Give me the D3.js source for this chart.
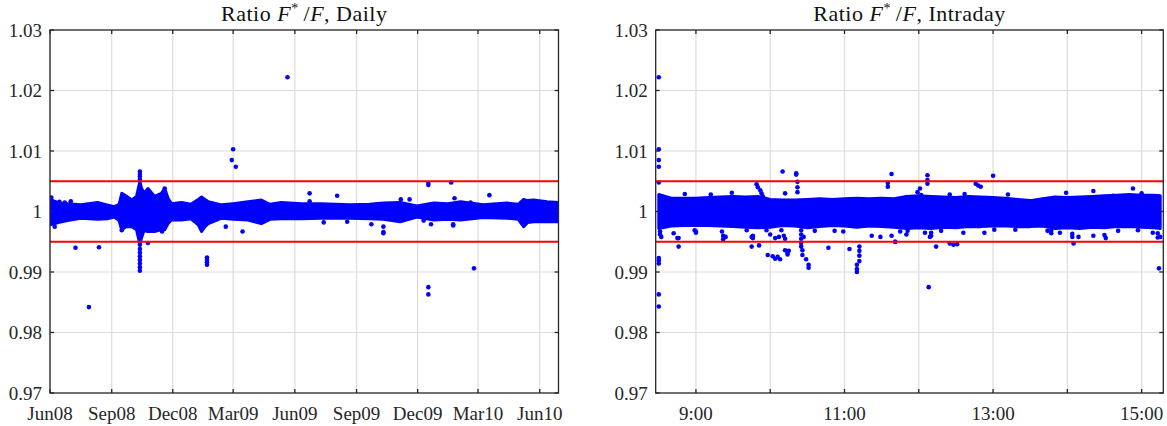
<!DOCTYPE html>
<html>
<head>
<meta charset="utf-8">
<script src="https://cdn.jsdelivr.net/npm/d3@7"></script>
<style>
  body { margin: 0; background: #fff; }
  text { font-family: "Liberation Serif", "Times New Roman", serif; fill: #262626; }
</style>
</head>
<body>
<div id="chart"></div>
<script>
// y axis, shared by both panels
var yTicks = [0.97, 0.98, 0.99, 1.00, 1.01, 1.02, 1.03];
var yTickLabels = ["0.97", "0.98", "0.99", "1", "1.01", "1.02", "1.03"];
var bounds = [0.995, 1.005];

// daily panel
var dailyTicks = ["2008-06-01", "2008-09-01", "2008-12-01", "2009-03-01", "2009-06-01",
                  "2009-09-01", "2009-12-01", "2010-03-01", "2010-06-01"];
var dailyTickLabels = ["Jun08", "Sep08", "Dec08", "Mar09", "Jun09", "Sep09", "Dec09", "Mar10", "Jun10"];
var dailyDomain = ["2008-06-01", "2010-06-29"];

// envelope of the dense cloud: date, upper, lower
var dailyBandDates = ["2008-06-01", "2008-06-15", "2008-06-27", "2008-07-17", "2008-08-11", "2008-08-25",
  "2008-09-05", "2008-09-12", "2008-09-16", "2008-09-22", "2008-10-01", "2008-10-08", "2008-10-11",
  "2008-10-13", "2008-10-15", "2008-10-19", "2008-10-25", "2008-11-04", "2008-11-14", "2008-11-19",
  "2008-11-24", "2008-11-29", "2008-12-14", "2008-12-28", "2009-01-08", "2009-01-13", "2009-01-18",
  "2009-01-23", "2009-02-12", "2009-03-01", "2009-03-23", "2009-04-12", "2009-04-25", "2009-05-12",
  "2009-06-11", "2009-07-09", "2009-08-23", "2009-09-20", "2009-10-11", "2009-11-05", "2009-11-30",
  "2009-12-25", "2010-01-15", "2010-02-03", "2010-03-09", "2010-04-13", "2010-04-30", "2010-05-08",
  "2010-05-14", "2010-05-23", "2010-06-12", "2010-06-29"];
var dailyBandUpper = [1.0020, 1.0014, 1.0013, 1.0011, 1.0015, 1.0011,
  1.0008, 1.0012, 1.0030, 1.0026, 1.0019, 1.0025, 1.0040,
  1.0050, 1.0040, 1.0030, 1.0038, 1.0025, 1.0030, 1.0038,
  1.0022, 1.0013, 1.0015, 1.0012, 1.0020, 1.0024, 1.0020,
  1.0016, 1.0011, 1.0013, 1.0016, 1.0019, 1.0012, 1.0015,
  1.0013, 1.0013, 1.0011, 1.0012, 1.0014, 1.0015, 1.0009,
  1.0014, 1.0013, 1.0016, 1.0011, 1.0014, 1.0012, 1.0020,
  1.0018, 1.0019, 1.0016, 1.0015];
var dailyBandLower = [0.9978, 0.9982, 0.9985, 0.9989, 0.9987, 0.9988,
  0.9991, 0.9985, 0.9969, 0.9975, 0.9975, 0.9970, 0.9955,
  0.9945, 0.9955, 0.9968, 0.9967, 0.9967, 0.9970, 0.9970,
  0.9980, 0.9986, 0.9986, 0.9988, 0.9978, 0.9967, 0.9975,
  0.9980, 0.9989, 0.9987, 0.9986, 0.9980, 0.9987, 0.9988,
  0.9988, 0.9989, 0.9989, 0.9988, 0.9987, 0.9983, 0.9991,
  0.9986, 0.9987, 0.9986, 0.9990, 0.9989, 0.9987, 0.9975,
  0.9982, 0.9983, 0.9983, 0.9983];

// isolated observations
var dailyPointDates = ["2008-06-03", "2008-07-09", "2008-07-29", "2008-08-13", "2008-09-16",
  "2008-10-13", "2008-10-13", "2008-10-13", "2008-10-13", "2008-10-13", "2008-10-13", "2008-10-13",
  "2008-10-13", "2008-10-13", "2008-10-13", "2008-10-13", "2008-10-13", "2008-10-25", "2008-11-15",
  "2008-11-19", "2009-01-21", "2009-01-21", "2009-01-21", "2009-01-21", "2009-02-18", "2009-02-27",
  "2009-03-01", "2009-03-05", "2009-03-15", "2009-05-21", "2009-06-23", "2009-06-23", "2009-07-14",
  "2009-08-03", "2009-08-18", "2009-09-23", "2009-10-11", "2009-10-11", "2009-10-11", "2009-11-06",
  "2009-11-19", "2009-12-10", "2009-12-17", "2009-12-17", "2009-12-17", "2009-12-17", "2009-12-21",
  "2010-01-20", "2010-01-23", "2010-01-23", "2010-01-25", "2010-02-18", "2010-02-23", "2010-03-18",
  "2008-06-15", "2008-06-23", "2008-06-08", "2008-07-02"];
var dailyPointValues = [1.0023, 0.9940, 0.9842, 0.9941, 0.9969,
  1.0066, 1.0062, 1.0058, 1.0053, 0.9945, 0.9938, 0.9932,
  0.9926, 0.9920, 0.9914, 0.9908, 0.9902, 0.9948, 0.9967,
  1.0038, 0.9924, 0.9920, 0.9916, 0.9912, 0.9975, 1.0085,
  1.0103, 1.0074, 0.9967, 1.0222, 1.0030, 1.0017, 0.9982,
  1.0026, 0.9983, 0.9979, 0.9975, 0.9966, 0.9964, 1.0020,
  1.0020, 0.9985, 1.0047, 1.0044, 0.9875, 0.9863, 0.9979,
  1.0048, 0.9979, 0.9977, 1.0022, 1.0015, 0.9906, 1.0027,
  1.0016, 1.0015, 0.9975, 1.0017];

// intraday panel
var intradayTicks = ["09:00", "10:00", "11:00", "12:00", "13:00", "14:00", "15:00"];
var intradayTickLabels = ["9:00", "", "11:00", "", "13:00", "", "15:00"];
var intradayDomain = ["08:27:30", "15:17:30"];

var intradayBandTimes = ["08:30", "08:40", "08:50", "09:00", "09:10", "09:20", "09:30", "09:40",
  "09:50", "10:00", "10:10", "10:20", "10:30", "10:40", "10:50", "11:00", "11:10", "11:20",
  "11:30", "11:40", "11:50", "12:00", "12:10", "12:20", "12:30", "12:40", "12:50", "13:00",
  "13:10", "13:20", "13:30", "13:40", "13:50", "14:00", "14:10", "14:20", "14:30", "14:40",
  "14:50", "15:00", "15:10", "15:15"];
var intradayBandUpper = [1.0028, 1.0022, 1.0022, 1.0022, 1.0023, 1.0024, 1.0025, 1.0024,
  1.0025, 1.0020, 1.0019, 1.0019, 1.0020, 1.0021, 1.0020, 1.0021, 1.0022, 1.0021,
  1.0022, 1.0021, 1.0025, 1.0026, 1.0025, 1.0024, 1.0023, 1.0025, 1.0024, 1.0023,
  1.0022, 1.0020, 1.0018, 1.0021, 1.0024, 1.0023, 1.0024, 1.0025, 1.0026, 1.0027,
  1.0028, 1.0027, 1.0027, 1.0026];
var intradayBandLower = [0.9972, 0.9976, 0.9977, 0.9977, 0.9977, 0.9976, 0.9975, 0.9974,
  0.9973, 0.9974, 0.9977, 0.9976, 0.9973, 0.9975, 0.9977, 0.9976, 0.9974, 0.9976,
  0.9975, 0.9974, 0.9972, 0.9973, 0.9972, 0.9974, 0.9973, 0.9975, 0.9975, 0.9976,
  0.9976, 0.9975, 0.9975, 0.9976, 0.9972, 0.9973, 0.9972, 0.9974, 0.9973, 0.9975,
  0.9975, 0.9974, 0.9973, 0.9972];

var intradayPointTimes = ["08:30", "08:30", "08:30", "08:30", "08:30", "08:30", "08:30", "08:30",
  "08:30", "08:30", "08:31", "08:31", "08:42", "08:45", "08:46", "08:51", "09:00", "09:00",
  "09:22", "09:22", "09:29", "09:45", "09:46", "09:46", "09:49", "09:50", "09:52", "09:53",
  "09:54", "09:51", "09:58", "10:02", "10:04", "10:06", "10:08", "10:04", "10:10", "10:12",
  "10:14", "10:14", "10:21", "10:21", "10:22", "10:22", "10:22", "10:25", "10:25", "10:25",
  "10:25", "10:25", "10:26", "10:26", "10:29", "10:31", "10:31", "10:47", "11:04", "11:10",
  "11:10", "11:10", "11:12", "11:12", "11:12", "11:12", "11:29", "11:35", "11:35", "11:38",
  "11:41", "12:01", "12:07", "12:07", "12:07", "12:08", "12:14", "12:10", "12:10", "12:25",
  "12:28", "12:31", "12:46", "12:48", "12:50", "13:00", "13:47", "13:47", "13:59", "14:05",
  "14:04", "14:04", "14:21", "14:30", "14:31", "14:53", "15:13", "15:13", "15:14",
  // fringe just outside the cloud
  "08:32", "08:46", "08:59", "09:21", "09:24", "09:41", "09:45", "09:57", "10:00", "10:07",
  "10:09", "10:11", "10:12", "10:15", "10:27", "10:36", "10:52", "10:59", "11:22", "11:38",
  "11:41", "11:45", "11:50", "11:51", "12:05", "12:09", "12:18", "12:36", "12:53", "13:01",
  "13:18", "13:44", "13:54", "14:09", "14:21", "14:41", "14:57", "15:09", "15:15",
  "09:12", "10:12", "11:50", "11:59", "12:02", "12:25", "12:37", "13:12", "14:37", "15:00"];
var intradayPointValues = [1.0222, 1.0103, 1.0085, 1.0074, 1.0048, 0.9923, 0.9919, 0.9914,
  0.9863, 0.9843, 0.9967, 0.9962, 0.9964, 0.9956, 0.9942, 1.0029, 0.9967, 0.9965,
  0.9960, 0.9954, 1.0031, 0.9942, 0.9956, 0.9960, 1.0045, 1.0040, 1.0035, 1.0030,
  1.0025, 0.9944, 0.9928, 0.9926, 0.9922, 0.9925, 0.9921, 0.9956, 1.0066, 0.9936,
  0.9932, 0.9929, 1.0063, 1.0061, 1.0049, 1.0040, 1.0032, 0.9969, 0.9962, 0.9955,
  0.9948, 0.9942, 0.9936, 0.9928, 0.9921, 0.9912, 0.9907, 0.9940, 0.9938, 0.9912,
  0.9905, 0.9900, 0.9942, 0.9935, 0.9927, 0.9918, 0.9958, 1.0047, 1.0041, 1.0062,
  0.9950, 1.0038, 1.0060, 1.0052, 1.0046, 0.9875, 0.9942, 0.9965, 0.9960, 0.9947,
  0.9945, 0.9946, 1.0046, 1.0043, 1.0041, 1.0059, 0.9968, 0.9964, 1.0031, 0.9947,
  0.9963, 0.9958, 1.0034, 0.9961, 0.9956, 1.0038, 0.9964, 0.9957, 0.9906,
  0.9958, 0.9956, 0.9969, 0.9967, 0.9958, 0.9969, 0.9958, 0.9969, 0.9962, 0.9958,
  0.9969, 0.9960, 0.9955, 0.9935, 0.9958, 0.9968, 0.9968, 0.9967, 0.9960, 0.9960,
  0.9950, 0.9967, 0.9962, 0.9968, 0.9965, 0.9958, 0.9968, 0.9965, 0.9965, 0.9970,
  0.9970, 0.9968, 0.9965, 0.9958, 0.9960, 0.9968, 0.9969, 0.9965, 0.9958,
  1.0028, 1.0030, 1.0024, 1.0032, 1.0027, 1.0028, 1.0029, 1.0028, 1.0026, 1.0030];

var W = 1167, H = 426;
var plotTop = 30, plotBottom = 393;

var svg = d3.select("#chart").append("svg")
    .attr("width", W)
    .attr("height", H);

var parseDay = d3.timeParse("%Y-%m-%d");
var parseHM = d3.timeParse("%H:%M");
var parseHMS = d3.timeParse("%H:%M:%S");

var yScale = d3.scaleLinear().domain([0.97, 1.03]).range([plotBottom, plotTop]);

function panel(opts) {
  var x = opts.x;
  var x0 = x.range()[0], x1 = x.range()[1];
  var g = svg.append("g");
  var clipId = "clip" + opts.id;

  g.append("clipPath").attr("id", clipId)
    .append("rect")
      .attr("x", x0).attr("y", plotTop)
      .attr("width", x1 - x0).attr("height", plotBottom - plotTop);

  // grid
  g.selectAll(".gx").data(opts.ticks)
    .enter().append("line")
      .attr("x1", function(d) { return x(d); }).attr("x2", function(d) { return x(d); })
      .attr("y1", plotTop).attr("y2", plotBottom)
      .attr("stroke", "#dcdcdc").attr("stroke-width", 1.2);
  g.selectAll(".gy").data(yTicks.slice(1, -1))
    .enter().append("line")
      .attr("x1", x0).attr("x2", x1)
      .attr("y1", function(d) { return yScale(d); }).attr("y2", function(d) { return yScale(d); })
      .attr("stroke", "#dcdcdc").attr("stroke-width", 1.2);

  var plot = g.append("g").attr("clip-path", "url(#" + clipId + ")");

  // dense cloud
  var area = d3.area()
      .x(function(d) { return x(d.t); })
      .y0(function(d) { return yScale(d.lo); })
      .y1(function(d) { return yScale(d.hi); });
  plot.append("path")
      .datum(opts.band)
      .attr("d", area)
      .attr("fill", "#0000ff")
      .attr("stroke", "#0000ff")
      .attr("stroke-width", 3)
      .attr("stroke-linejoin", "round");

  plot.selectAll("circle").data(opts.points)
    .enter().append("circle")
      .attr("cx", function(d) { return x(d.t); })
      .attr("cy", function(d) { return yScale(d.v); })
      .attr("r", 2.3)
      .attr("fill", "#0000ff");

  // bounds
  plot.selectAll(".bound").data(bounds)
    .enter().append("line")
      .attr("x1", x0).attr("x2", x1)
      .attr("y1", function(d) { return yScale(d); }).attr("y2", function(d) { return yScale(d); })
      .attr("stroke", "#ff0000").attr("stroke-width", 2);

  // box
  g.append("rect")
      .attr("x", x0).attr("y", plotTop)
      .attr("width", x1 - x0).attr("height", plotBottom - plotTop)
      .attr("fill", "none").attr("stroke", "#262626").attr("stroke-width", 1.3);

  // inner ticks on all four sides
  opts.ticks.forEach(function(d) {
    var xx = x(d);
    g.append("line").attr("x1", xx).attr("x2", xx).attr("y1", plotBottom).attr("y2", plotBottom - 4)
      .attr("stroke", "#262626").attr("stroke-width", 1.3);
    g.append("line").attr("x1", xx).attr("x2", xx).attr("y1", plotTop).attr("y2", plotTop + 4)
      .attr("stroke", "#262626").attr("stroke-width", 1.3);
  });
  yTicks.forEach(function(d) {
    var yy = yScale(d);
    g.append("line").attr("x1", x0).attr("x2", x0 + 4).attr("y1", yy).attr("y2", yy)
      .attr("stroke", "#262626").attr("stroke-width", 1.3);
    g.append("line").attr("x1", x1).attr("x2", x1 - 4).attr("y1", yy).attr("y2", yy)
      .attr("stroke", "#262626").attr("stroke-width", 1.3);
  });

  // tick labels
  g.selectAll(".xl").data(opts.ticks)
    .enter().append("text")
      .attr("x", function(d) { return x(d); })
      .attr("y", 420)
      .attr("text-anchor", "middle")
      .style("font-size", "19px")
      .text(function(d, i) { return opts.tickLabels[i]; });
  g.selectAll(".yl").data(yTicks)
    .enter().append("text")
      .attr("x", x0 - 8)
      .attr("y", function(d) { return yScale(d) + 6.5; })
      .attr("text-anchor", "end")
      .style("font-size", "19px")
      .text(function(d, i) { return yTickLabels[i]; });

  // title: Ratio F*/F, ...
  var title = g.append("text")
      .attr("x", (x0 + x1) / 2)
      .attr("y", 21)
      .attr("text-anchor", "middle")
      .style("font-size", "22px")
      .style("letter-spacing", "0.5px")
      .style("fill", "#111");
  title.append("tspan").text("Ratio ");
  title.append("tspan").style("font-style", "italic").text("F");
  title.append("tspan").attr("dy", -8).style("font-size", "14px").text("*");
  title.append("tspan").attr("dy", 8).text("\u2009/");
  title.append("tspan").style("font-style", "italic").text("F");
  title.append("tspan").text(", " + opts.label);
}

// daily
var xDaily = d3.scaleTime()
    .domain(dailyDomain.map(parseDay))
    .range([50, 558.5]);
panel({
  id: "daily",
  x: xDaily,
  label: "Daily",
  ticks: dailyTicks.map(parseDay),
  tickLabels: dailyTickLabels,
  band: dailyBandDates.map(function(d, i) {
    return {t: parseDay(d), hi: dailyBandUpper[i], lo: dailyBandLower[i]};
  }),
  points: dailyPointDates.map(function(d, i) {
    return {t: parseDay(d), v: dailyPointValues[i]};
  })
});

// intraday
var xIntra = d3.scaleTime()
    .domain(intradayDomain.map(parseHMS))
    .range([655.7, 1163.3]);
panel({
  id: "intra",
  x: xIntra,
  label: "Intraday",
  ticks: intradayTicks.map(parseHM),
  tickLabels: intradayTickLabels,
  band: intradayBandTimes.map(function(d, i) {
    return {t: parseHM(d), hi: intradayBandUpper[i], lo: intradayBandLower[i]};
  }),
  points: intradayPointTimes.map(function(d, i) {
    return {t: parseHM(d), v: intradayPointValues[i]};
  })
});
</script>
</body>
</html>
